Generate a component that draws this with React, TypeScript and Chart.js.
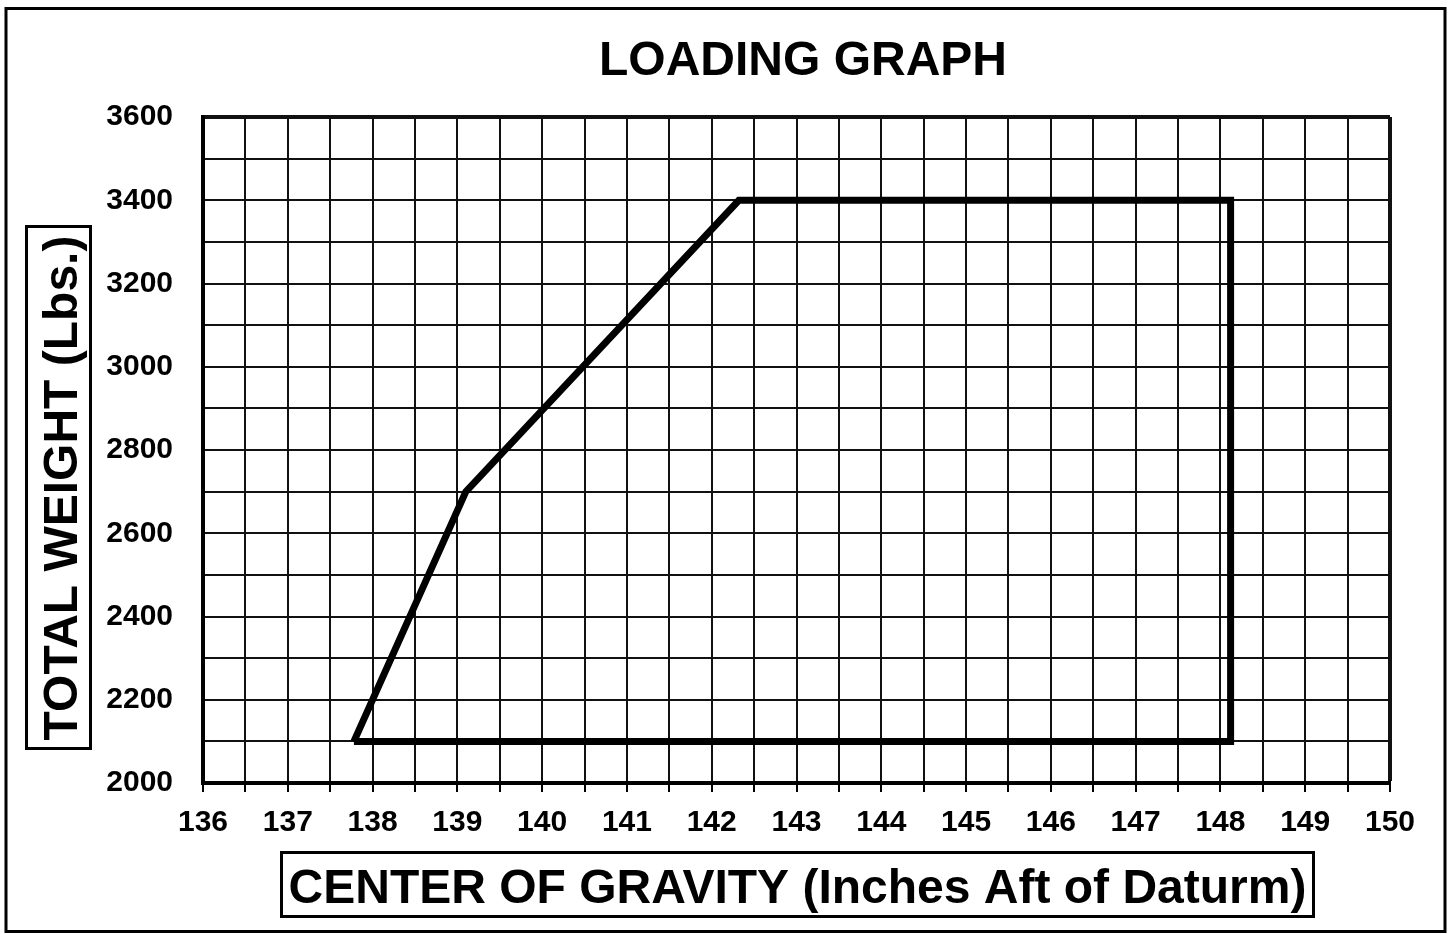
import React, { useEffect, useRef } from "react";
import { Chart, registerables } from "chart.js";

Chart.register(...registerables);

const chartTitle = "LOADING GRAPH";
const xAxisTitle = "CENTER OF GRAVITY (Inches Aft of Daturm)";
const yAxisTitle = "TOTAL WEIGHT (Lbs.)";

// Envelope vertices (CG inches, weight lbs), closed polygon
const cgValues = [137.78, 139.1, 142.32, 148.12, 148.12, 137.78];
const weightValues = [2100, 2700, 3400, 3400, 2100, 2100];

const xMin = 136;
const xMax = 150;
const xStep = 0.5;
const yMin = 2000;
const yMax = 3600;
const yStep = 100;
const yLabelEvery = 200;

const FONT = "'Liberation Sans', Arial, sans-serif";

const framePlugin = {
  id: "framePlugin",
  afterDraw(chart: any) {
    const ctx = chart.ctx;
    const area = chart.chartArea;
    ctx.save();
    ctx.strokeStyle = "#000";
    ctx.fillStyle = "#000";
    // outer border
    ctx.lineWidth = 3;
    ctx.strokeRect(6, 8.5, 1439, 923);
    // title
    ctx.font = `bold 48px ${FONT}`;
    ctx.textAlign = "center";
    ctx.textBaseline = "alphabetic";
    ctx.fillText(chartTitle, 803, 75);
    // x-axis title box
    const xc = (area.left + area.right) / 2;
    ctx.lineWidth = 3;
    ctx.strokeRect(281.5, 852.5, 1032, 64);
    ctx.fillText(xAxisTitle, xc + 1, 903);
    // y-axis title box
    ctx.strokeRect(26.5, 226.5, 64, 522);
    ctx.translate(77, 488);
    ctx.rotate(-Math.PI / 2);
    ctx.fillText(yAxisTitle, 0, 0);
    ctx.restore();
  },
};

export default function App() {
  const ref = useRef<HTMLCanvasElement | null>(null);

  useEffect(() => {
    if (!ref.current) return;
    const points = cgValues.map((x, i) => ({ x, y: weightValues[i] }));
    const chart = new Chart(ref.current, {
      type: "scatter",
      data: {
        datasets: [
          {
            data: points,
            showLine: true,
            borderColor: "#000",
            borderWidth: 7,
            borderJoinStyle: "miter",
            pointRadius: 0,
            fill: false,
          } as any,
        ],
      },
      options: {
        responsive: false,
        animation: false,
        layout: { padding: { top: 117, right: 63, left: 0, bottom: 0 } },
        plugins: {
          legend: { display: false },
          tooltip: { enabled: false },
          title: { display: false },
        },
        scales: {
          x: {
            type: "linear",
            min: xMin,
            max: xMax,
            afterFit: (s: any) => {
              s.height = 151;
            },
            ticks: {
              stepSize: xStep,
              autoSkip: false,
              maxRotation: 0,
              padding: 13,
              color: "#000",
              font: { family: FONT, size: 30, weight: "bold" },
              callback: (v: any) => (Number.isInteger(Number(v)) ? String(v) : ""),
            },
            grid: {
              color: "#111",
              lineWidth: (c: any) => (c.tick && c.tick.value === xMax ? 4 : 2),
              tickLength: 9,
              tickWidth: 2,
              tickColor: "#000",
            },
            border: { color: "#000", width: 4 },
          },
          y: {
            type: "linear",
            min: yMin,
            max: yMax,
            afterFit: (s: any) => {
              s.width = 203;
            },
            ticks: {
              stepSize: yStep,
              autoSkip: false,
              padding: 30,
              color: "#000",
              font: { family: FONT, size: 30, weight: "bold" },
              callback: (v: any) => (Number(v) % yLabelEvery === 0 ? String(v) : ""),
            },
            grid: {
              color: "#111",
              lineWidth: (c: any) => (c.tick && c.tick.value === yMax ? 4 : 2),
              drawTicks: false,
            },
            border: { color: "#000", width: 4 },
          },
        },
      } as any,
      plugins: [framePlugin],
    });
    return () => chart.destroy();
  }, []);

  return (
    <div style={{ position: "fixed", left: 0, top: 0, width: 1453, height: 934, background: "#fff" }}>
      <canvas ref={ref} width={1453} height={934} style={{ display: "block" }} />
    </div>
  );
}
